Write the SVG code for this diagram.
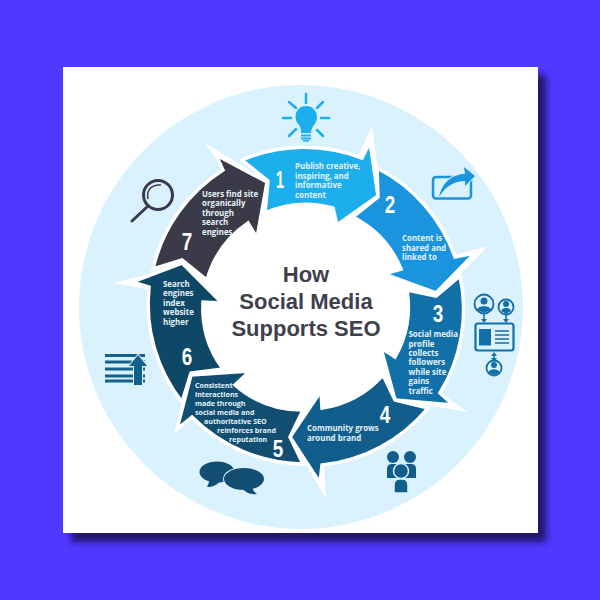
<svg xmlns="http://www.w3.org/2000/svg" width="600" height="600" viewBox="0 0 600 600">
<style>
.a{stroke:#fff;stroke-width:3.500;stroke-linejoin:miter;stroke-miterlimit:12}
.t{font-family:"Open Sans","Noto Sans",sans-serif;font-weight:700;font-size:7.900px;fill:#e6f2f9}
.s{font-size:7.100px}
.n{font-family:"Liberation Sans",sans-serif;font-weight:700;font-size:24px;fill:#fff;text-anchor:middle}
.h{font-family:"Liberation Sans",Arial,sans-serif;font-weight:700;font-size:22px;fill:#3f3f4e;text-anchor:middle}
</style>
<defs><filter id="b" x="-10%" y="-10%" width="120%" height="120%"><feGaussianBlur stdDeviation="3"/></filter></defs>
<rect width="600" height="600" fill="#4f38ff"/>
<rect x="71" y="75" width="475" height="467" fill="#21196e" filter="url(#b)"/>
<rect x="63" y="67" width="475" height="466" fill="#fff"/>
<circle cx="301" cy="307" r="222" fill="#d9f2fe"/>
<circle cx="306" cy="306" r="120" fill="#fff"/>
<g id="connectors">
<path fill="#fff" d="M358 156L372 127L382 197ZM450 256L488 246L440 295ZM436 390L468 412L420 404ZM324 462L326 499L312 475ZM195 415L174 433L186 390ZM150 290L114 283L165 270ZM225 172L205 143L250 170Z"/>
<path class="a" fill="#1daeee" d="M242 160A159 159 0 0 1 362 158L370 142L378 196L337 225L333 208A102 102 0 0 0 265 213L268 181Z"/>
<path class="a" fill="#1a94dc" d="M377 168A159 159 0 0 1 455 257L475 253L436 293L384 274L401 269A102 102 0 0 0 353 217L378 197Z"/>
<path class="a" fill="#1270a8" d="M407 290L436 296L460 276A159 159 0 0 1 440 393L453 405L395 400L381 348L395 357A102 102 0 0 0 407 290Z"/>
<path class="a" fill="#115e8c" d="M383 375L395 400L428 408A159 159 0 0 1 322 465L320 483L290 437L321 391L322 408A102 102 0 0 0 383 375Z"/>
<path class="a" fill="#124e72" d="M303 410L290 437L303 464A159 159 0 0 1 192 417L177 429L191 375L250 371L235 385A102 102 0 0 0 303 410Z"/>
<path class="a" fill="#0f4866" d="M182 263L132 282L149 287A159 159 0 0 0 182 402L191 373L223 369A102 102 0 0 1 203 302L222 303Z"/>
<path class="a" fill="#3a3a48" d="M153 269A159 159 0 0 1 223 170L216 155L267 182L257 238L248 223A102 102 0 0 0 207 280L182 260Z"/>
</g>
<g id="node-1"><text class="n" x="280" y="188" textLength="8" lengthAdjust="spacingAndGlyphs">1</text><text class="t"><tspan x="295" y="169">Publish creative,</tspan><tspan x="295" y="179">inspiring, and</tspan><tspan x="295" y="188">informative</tspan><tspan x="295" y="198">content</tspan></text>
<g fill="#1daeee"><path d="M306 106C295 106 293 119 299 125C301 128 301 130 301 133H311C311 130 312 128 314 125C320 119 317 106 306 106Z"/><rect x="301" y="134.500" width="10" height="2"/><rect x="301" y="137.500" width="10" height="2"/><rect x="303" y="140" width="6" height="1.500"/></g>
<path fill="none" stroke="#1daeee" stroke-width="2.500" stroke-linecap="round" d="M306 94V103M283 118H291M321 118H329M289 102L296 108M323 102L317 108M289 136L296 129M323 136L317 130"/></g>
<g id="node-2"><text class="n" x="390" y="213" textLength="10.500" lengthAdjust="spacingAndGlyphs">2</text><text class="t"><tspan x="402" y="241">Content is</tspan><tspan x="402" y="251">shared and</tspan><tspan x="402" y="260">linked to</tspan></text>
<rect x="433" y="177" width="38" height="21.500" rx="3" fill="none" stroke="#1a94dc" stroke-width="2.500"/>
<path fill="#1a94dc" stroke="#d9f2fe" stroke-width="2" paint-order="stroke" d="M439 197C442 183 452 174 465 174L464 167L475 176L465 186L465 181C454 181 446 186 439 197Z"/></g>
<g id="node-3"><text class="n" x="438" y="322" textLength="10.500" lengthAdjust="spacingAndGlyphs">3</text><text class="t"><tspan x="408.500" y="337">Social media</tspan><tspan x="408.500" y="346.500">profile</tspan><tspan x="408.500" y="356">collects</tspan><tspan x="408.500" y="365">followers</tspan><tspan x="408.500" y="375">while site</tspan><tspan x="408.500" y="384">gains</tspan><tspan x="408.500" y="394">traffic</tspan></text>
<g fill="none" stroke="#1270a8" stroke-width="1.800"><circle cx="484" cy="304" r="9.500"/><circle cx="506" cy="307" r="7.500"/><circle cx="494" cy="368" r="7.500"/><rect x="475.500" y="323.500" width="38" height="27" rx="2.500" stroke-width="2.200"/><path stroke-width="1.500" d="M495 331H509M495 335H509M495 339H509M495 343H509M484 314V320M506 315V320M494 354V360"/></g>
<g fill="#1270a8"><rect x="479" y="329" width="12" height="16.500"/><circle cx="484" cy="301" r="3.500"/><path d="M477 310C478 305 490 305 491 310L484 313Z"/><circle cx="506" cy="304" r="3"/><path d="M501 311C502 307 510 307 511 311L506 314Z"/><circle cx="494" cy="365" r="3"/><path d="M488 373C489 368 499 368 500 373L494 375Z"/><path d="M481 319H487L484 323ZM503 319H509L506 323ZM491 356H497L494 352ZM491 358H497L494 362Z"/></g></g>
<g id="node-4"><text class="n" x="385" y="423" textLength="10.500" lengthAdjust="spacingAndGlyphs">4</text><text class="t"><tspan x="307" y="431">Community grows</tspan><tspan x="307" y="441">around brand</tspan></text>
<g fill="#115e8c"><circle cx="393" cy="457" r="6"/><circle cx="410" cy="457" r="6"/><path d="M387 478V469Q387 464 392 464H411Q416 464 416 469V478Z"/><circle cx="401" cy="471" r="7.500" stroke="#d9f2fe" stroke-width="1.500"/><path stroke="#d9f2fe" stroke-width="1.500" d="M394 493V485Q394 479 400 479H402Q408 479 408 485V493Z"/></g></g>
<g id="node-5"><text class="n" x="278" y="457" textLength="10.500" lengthAdjust="spacingAndGlyphs">5</text><text class="t s"><tspan x="195" y="388">Consistent</tspan><tspan x="195" y="397">interactions</tspan><tspan x="195" y="406">made through</tspan><tspan x="195" y="415">social media and</tspan><tspan x="204" y="424">authoritative SEO</tspan><tspan x="217" y="433">reinforces brand</tspan><tspan x="229" y="442">reputation</tspan></text>
<g fill="#124e72"><ellipse cx="217" cy="472" rx="17.500" ry="10.500"/><path d="M210 480L207 487C213 487 217 485 220 481Z"/><ellipse cx="244" cy="479" rx="20" ry="11" stroke="#d9f2fe" stroke-width="2" paint-order="stroke"/><path d="M242 488C245 492 250 495 257 494C254 492 253 490 252 487Z"/></g></g>
<g id="node-6"><text class="n" x="187" y="365" textLength="10.500" lengthAdjust="spacingAndGlyphs">6</text><text class="t"><tspan x="163" y="287">Search</tspan><tspan x="163" y="296">engines</tspan><tspan x="163" y="306">index</tspan><tspan x="163" y="315">website</tspan><tspan x="163" y="325">higher</tspan></text>
<path stroke="#12608c" stroke-width="3" d="M105 355.500H145M105 362H145M105 369H145M105 376H145M105 381H145"/>
<path fill="#12608c" stroke="#d9f2fe" stroke-width="2" paint-order="stroke" d="M138 355L147 366H142V385H134V366H129Z"/></g>
<g id="node-7"><text class="n" x="187" y="250" textLength="10.500" lengthAdjust="spacingAndGlyphs">7</text><text class="t"><tspan x="202" y="197">Users find site</tspan><tspan x="202" y="206">organically</tspan><tspan x="202" y="216">through</tspan><tspan x="202" y="225">search</tspan><tspan x="202" y="235">engines</tspan></text>
<g fill="none" stroke="#3a3a48"><circle cx="158" cy="195" r="14.500" stroke-width="3"/><path stroke-width="3" stroke-linecap="round" d="M148 206L132 221"/><path stroke-width="1.500" d="M148 199C146 190 152 184 161 185"/></g></g>
<g id="title"><text class="h" x="306" y="282">How</text><text class="h" x="306" y="309">Social Media</text><text class="h" x="306" y="336">Supports SEO</text></g>
</svg>
